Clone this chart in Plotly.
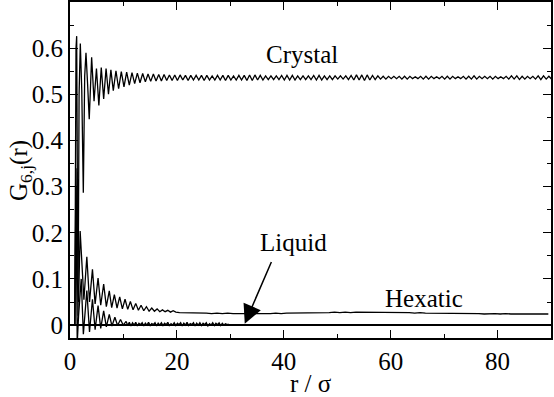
import numpy as np
import plotly.graph_objects as go

# crystal: first few shells read point by point, then a regular tail
crystal_r_head = [0.90, 1.00, 1.12, 1.25, 1.50, 1.70, 1.93, 2.20, 2.49, 2.75, 2.99,
                  3.30, 3.60, 4.05, 4.50, 4.95, 5.40, 5.85, 6.30, 6.75, 7.20, 7.65]
crystal_g_head = [0.00, 0.32, 0.60, 0.626, 0.02, 0.50, 0.610, 0.51, 0.287, 0.54, 0.590,
                  0.52, 0.446, 0.580, 0.485, 0.556, 0.476, 0.558, 0.49, 0.556, 0.50, 0.553]
crystal_tail_start, crystal_tail_step = 8.1, 0.5
crystal_g_tail = [
    0.508, 0.551, 0.512, 0.549, 0.516, 0.548, 0.520, 0.547, 0.523, 0.546,
    0.525, 0.545, 0.527, 0.544, 0.528, 0.544, 0.529, 0.543, 0.529, 0.543,
    0.530, 0.542, 0.530, 0.542, 0.530, 0.542, 0.531, 0.541, 0.530, 0.541,
    0.531, 0.541, 0.531, 0.541, 0.530, 0.541, 0.531, 0.540, 0.531, 0.541,
    0.531, 0.541, 0.530, 0.541, 0.531, 0.540, 0.531, 0.541, 0.531, 0.541,
    0.530, 0.542, 0.530, 0.542, 0.531, 0.541, 0.531, 0.540, 0.532, 0.540,
    0.532, 0.540, 0.532, 0.541, 0.531, 0.541, 0.531, 0.541, 0.531, 0.540,
    0.532, 0.540, 0.532, 0.540, 0.532, 0.541, 0.531, 0.541, 0.531, 0.540,
    0.532, 0.540, 0.532, 0.540, 0.533, 0.540, 0.533, 0.540, 0.532, 0.541,
    0.531, 0.542, 0.531, 0.542, 0.530, 0.542, 0.531, 0.541, 0.532, 0.540,
    0.533, 0.539, 0.533, 0.539, 0.534, 0.539, 0.534, 0.539, 0.533, 0.539,
    0.533, 0.539, 0.534, 0.538, 0.534, 0.539, 0.533, 0.539, 0.533, 0.539,
    0.534, 0.538, 0.534, 0.539, 0.533, 0.539, 0.533, 0.539, 0.534, 0.538,
    0.534, 0.539, 0.533, 0.539, 0.533, 0.540, 0.533, 0.539, 0.534, 0.539,
    0.534, 0.539, 0.533, 0.539, 0.534, 0.538, 0.534, 0.539, 0.533, 0.540,
    0.533, 0.540, 0.532, 0.539, 0.533, 0.539, 0.534, 0.539, 0.533, 0.540,
    0.532, 0.540, 0.533, 0.539, 0.533, 0.540, 0.532, 0.539, 0.533, 0.540,
]

# hexatic
hexatic_r_head = [0.90, 1.00, 1.12, 1.35, 1.60, 1.90, 2.15, 2.60, 3.15, 3.65, 4.20,
                  4.70, 5.25, 5.75, 6.30, 6.80, 7.35, 7.80]
hexatic_g_head = [0.00, 0.26, 0.34, 0.10, 0.05, 0.204, 0.15, 0.055, 0.148, 0.050, 0.121,
                  0.046, 0.102, 0.043, 0.089, 0.040, 0.074, 0.038]
hexatic_mid_start, hexatic_mid_step = 8.3, 0.5
hexatic_g_mid = [0.066, 0.037, 0.061, 0.035, 0.056, 0.034, 0.051, 0.033, 0.047, 0.032,
                 0.043, 0.031, 0.040, 0.030, 0.037, 0.030, 0.035, 0.029, 0.033, 0.029,
                 0.032, 0.028, 0.031, 0.028]
hexatic_far_start, hexatic_far_step = 20.5, 1.0
hexatic_g_far = [
    0.027, 0.027, 0.026, 0.027, 0.026, 0.026, 0.025, 0.026, 0.025, 0.026,
    0.025, 0.025, 0.024, 0.025, 0.025, 0.024, 0.025, 0.025, 0.026, 0.025,
    0.026, 0.026, 0.027, 0.026, 0.027, 0.027, 0.026, 0.027, 0.027, 0.028,
    0.027, 0.028, 0.027, 0.028, 0.028, 0.027, 0.028, 0.028, 0.027, 0.028,
    0.027, 0.028, 0.027, 0.027, 0.026, 0.027, 0.026, 0.026, 0.025, 0.026,
    0.025, 0.026, 0.025, 0.025, 0.026, 0.025, 0.025, 0.024, 0.025, 0.025,
    0.024, 0.025, 0.024, 0.024, 0.025, 0.024, 0.024, 0.025, 0.024, 0.024,
]

# liquid
liquid_r_head = [0.90, 1.00, 1.12, 1.35, 1.60, 2.10, 2.50, 3.15, 3.65, 4.20, 4.70,
                 5.25, 5.75, 6.30, 6.80, 7.35, 7.85, 8.40, 8.90, 9.45, 9.95]
liquid_g_head = [0.00, 0.20, 0.30, -0.04, 0.02, 0.10, -0.02, 0.075, -0.015, 0.056, -0.010,
                 0.042, -0.007, 0.031, -0.004, 0.023, -0.002, 0.017, -0.001, 0.012, 0.000]
liquid_tail_start, liquid_tail_step = 10.5, 0.3
liquid_g_tail = [
    0.008, -0.001, 0.006, -0.002, 0.005, 0.000, 0.006, -0.002, 0.004, 0.001,
    0.005, -0.002, 0.004, 0.000, 0.006, -0.001, 0.003, 0.001, 0.005, -0.002,
    0.004, 0.000, 0.005, -0.001, 0.004, 0.001, 0.006, -0.002, 0.003, 0.000,
    0.005, -0.001, 0.004, 0.001, 0.005, -0.002, 0.004, 0.000, 0.006, -0.001,
    0.003, 0.001, 0.005, -0.002, 0.004, 0.000, 0.005, -0.001, 0.004, 0.001,
    0.005, -0.002, 0.003, 0.000, 0.005, -0.001, 0.004, 0.001, 0.005, -0.001,
    0.004, 0.000, 0.003, 0.001, 0.002,
]

x_ticks = [0, 20, 40, 60, 80]
y_ticks = [0, 0.1, 0.2, 0.3, 0.4, 0.5, 0.6]
y_ticktext = ["0", "0.1", "0.2", "0.3", "0.4", "0.5", "0.6"]


def grid(start, step, n):
    return list(start + step * np.arange(n))


crystal_r = crystal_r_head + grid(crystal_tail_start, crystal_tail_step, len(crystal_g_tail))
crystal_g = crystal_g_head + crystal_g_tail
hexatic_r = (hexatic_r_head + grid(hexatic_mid_start, hexatic_mid_step, len(hexatic_g_mid))
             + grid(hexatic_far_start, hexatic_far_step, len(hexatic_g_far)))
hexatic_g = hexatic_g_head + hexatic_g_mid + hexatic_g_far
liquid_r = liquid_r_head + grid(liquid_tail_start, liquid_tail_step, len(liquid_g_tail))
liquid_g = liquid_g_head + liquid_g_tail

SERIF = "Liberation Serif, Times New Roman, serif"
txt = dict(family=SERIF, size=25, color="black")

fig = go.Figure()
for r, g in [(crystal_r, crystal_g), (hexatic_r, hexatic_g), (liquid_r, liquid_g)]:
    fig.add_trace(go.Scatter(x=r, y=g, mode="lines",
                             line=dict(color="black", width=1.3),
                             showlegend=False))

fig.add_annotation(x=43.4, y=0.587, text="Crystal", showarrow=False, font=txt)
fig.add_annotation(x=66.2, y=0.058, text="Hexatic", showarrow=False, font=txt)
fig.add_annotation(x=41.9, y=0.178, text="Liquid", showarrow=False, font=txt)
fig.add_annotation(x=32.7, y=0.003, ax=37.8, ay=0.140, axref="x", ayref="y",
                   text="", showarrow=True, arrowhead=2, arrowsize=2.5,
                   arrowwidth=1.5, arrowcolor="black", standoff=0)

# axis titles placed by hand
fig.add_annotation(xref="paper", yref="paper", x=0.5, y=-0.134, text="r / σ",
                   xanchor="center", yanchor="middle", showarrow=False, font=txt)
fig.add_annotation(xref="paper", yref="paper", x=-0.104, y=0.5,
                   text="G<sub>6,j</sub>(r)", textangle=-90,
                   xanchor="center", yanchor="middle", showarrow=False, font=txt)

axis_common = dict(
    showline=True, linecolor="black", linewidth=2, mirror="ticks",
    ticks="inside", ticklen=8, tickwidth=1.2, tickcolor="black",
    showgrid=False, automargin=False,
    tickfont=txt,
)

fig.update_xaxes(range=[0, 90], tickvals=x_ticks,
                 minor=dict(ticks="inside", ticklen=4, tickwidth=1, tickcolor="black",
                            dtick=10, tick0=0),
                 zeroline=False, **axis_common)
fig.update_yaxes(range=[-0.028, 0.7], tickvals=y_ticks, ticktext=y_ticktext,
                 minor=dict(ticks="inside", ticklen=4, tickwidth=1, tickcolor="black",
                            dtick=0.05, tick0=0),
                 zeroline=True, zerolinecolor="black", zerolinewidth=1.5,
                 **axis_common)

fig.update_layout(
    width=554, height=397,
    margin=dict(l=70, r=3, t=2, b=59),
    paper_bgcolor="white", plot_bgcolor="white",
    font=txt,
)

# drop the browser's default 8px body margin so the figure sits at the window corner
fig.write_html("out.html", config={"displayModeBar": False},
               post_script="document.body.style.margin='0';")
